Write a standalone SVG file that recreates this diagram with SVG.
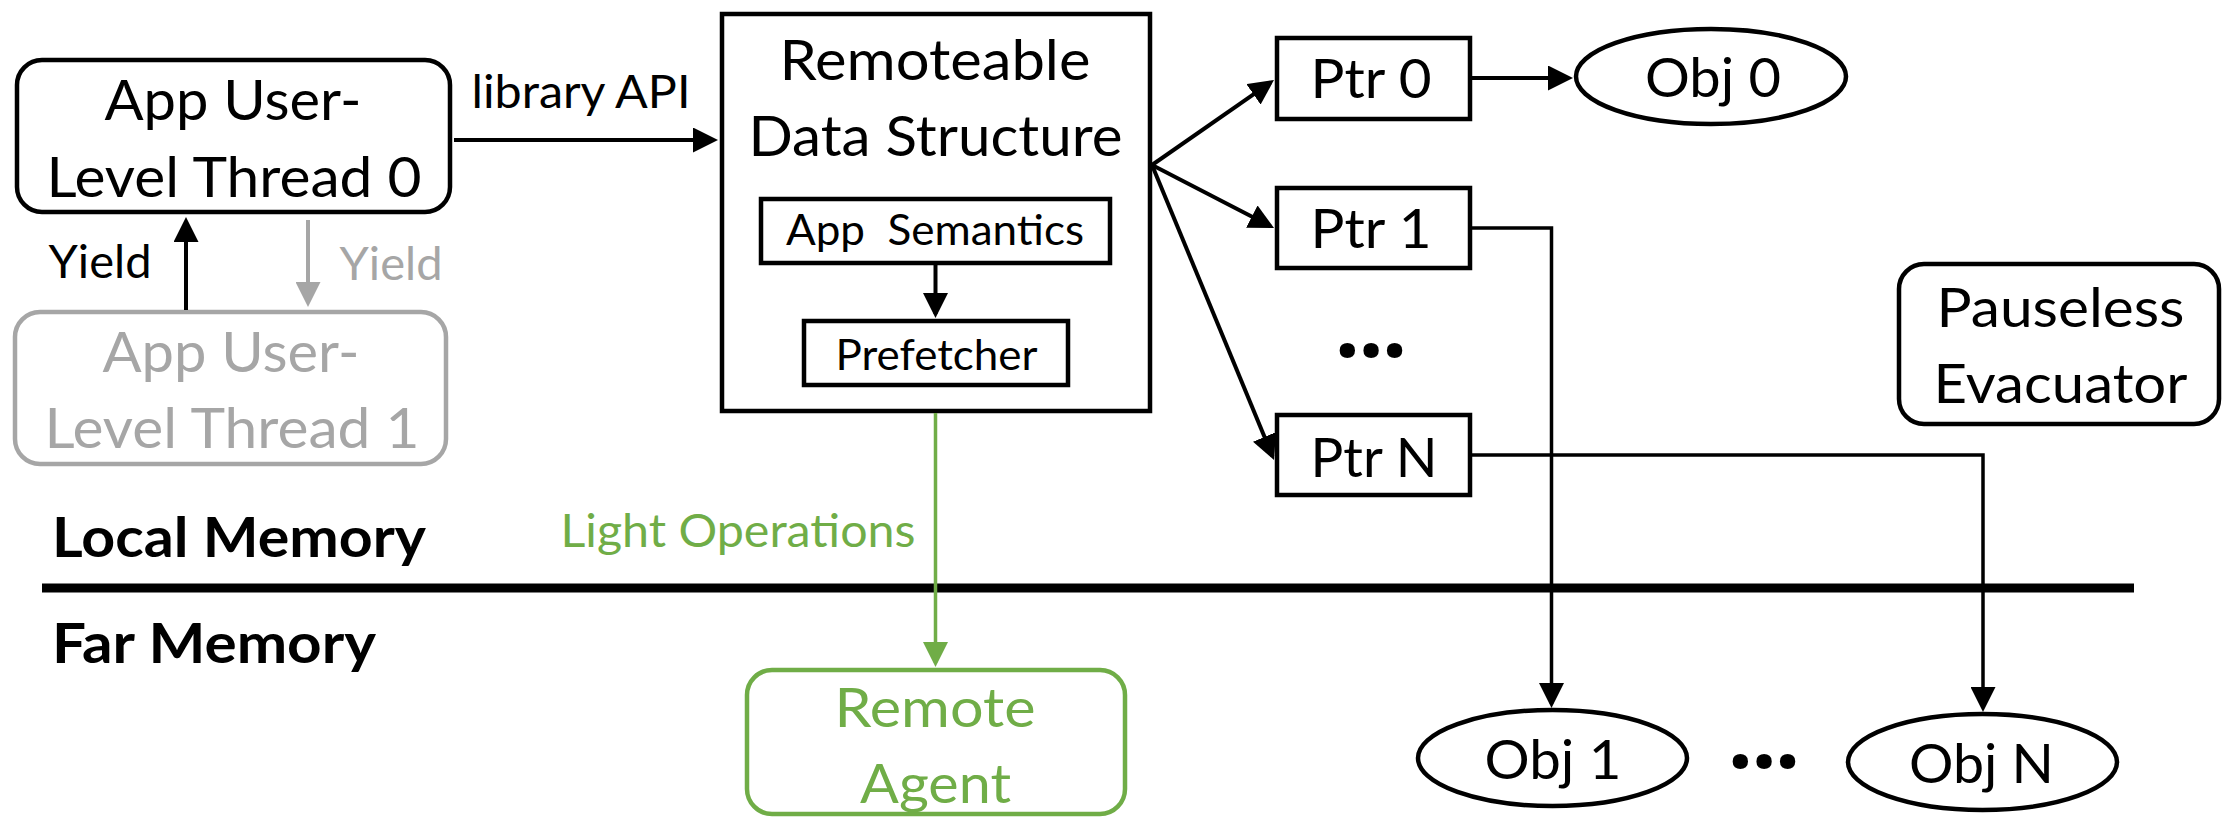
<svg xmlns="http://www.w3.org/2000/svg" width="2236" height="819" viewBox="0 0 2236 819">
  <style>
    text { font-family: Lato, "Open Sans", "Liberation Sans", sans-serif; fill: #000; }
    .mid { text-anchor: middle; }
    .big { font-size: 56px; }
    .med { font-size: 46px; }
    .sm { font-size: 42px; }
    .ptr { font-size: 54px; }
    .bold { font-weight: bold; }
    .dots { font-family: "Open Sans", "DejaVu Sans", sans-serif; font-weight: bold; font-size: 90px; text-anchor: middle; letter-spacing: -2px; }
    .gray { fill: #A6A6A6; }
    .green { fill: #70AD47; }
    .box { fill: #fff; stroke: #000; stroke-width: 4.5; }
    .box-gray { fill: #fff; stroke: #A6A6A6; stroke-width: 4.5; }
    .box-green { fill: #fff; stroke: #70AD47; stroke-width: 4.5; }
    .edge { fill: none; stroke: #000; stroke-width: 4; }
    .edge-thin { fill: none; stroke: #000; stroke-width: 3.5; }
    .edge-gray { fill: none; stroke: #A6A6A6; stroke-width: 4; }
    .edge-green { fill: none; stroke: #70AD47; stroke-width: 3.5; }
  </style>
  <defs>
    <marker id="arrow" markerUnits="userSpaceOnUse" viewBox="0 0 25 25" markerWidth="25" markerHeight="25" refX="21" refY="12.5" orient="auto">
      <path d="M0,0 L25,12.5 L0,25 Z" fill="#000"/>
    </marker>
    <marker id="arrow-gray" markerUnits="userSpaceOnUse" viewBox="0 0 25 25" markerWidth="25" markerHeight="25" refX="21" refY="12.5" orient="auto">
      <path d="M0,0 L25,12.5 L0,25 Z" fill="#A6A6A6"/>
    </marker>
    <marker id="arrow-green" markerUnits="userSpaceOnUse" viewBox="0 0 25 25" markerWidth="25" markerHeight="25" refX="21" refY="12.5" orient="auto">
      <path d="M0,0 L25,12.5 L0,25 Z" fill="#70AD47"/>
    </marker>
  </defs>

  <!-- memory boundary -->
  <g id="boundary">
    <line x1="42" y1="588" x2="2134" y2="588" stroke="#000" stroke-width="9"/>
    <text class="big bold" x="52" y="557" textLength="374" lengthAdjust="spacingAndGlyphs">Local Memory</text>
    <text class="big bold" x="52" y="663" textLength="324" lengthAdjust="spacingAndGlyphs">Far Memory</text>
  </g>

  <g id="thread0">
    <rect class="box" x="17" y="60" width="433" height="152" rx="25"/>
    <text class="big mid" x="233" y="120" textLength="257" lengthAdjust="spacingAndGlyphs">App User-</text>
    <text class="big mid" x="234" y="197" textLength="375" lengthAdjust="spacingAndGlyphs">Level Thread 0</text>
  </g>

  <g id="thread1">
    <rect class="box-gray" x="15" y="312" width="431" height="152" rx="25"/>
    <text class="big mid gray" x="231" y="372" textLength="257" lengthAdjust="spacingAndGlyphs">App User-</text>
    <text class="big mid gray" x="232" y="448" textLength="375" lengthAdjust="spacingAndGlyphs">Level Thread 1</text>
  </g>

  <g id="data-structure">
    <rect class="box" x="722" y="14" width="428" height="397"/>
    <text class="big mid" x="935" y="80" textLength="311" lengthAdjust="spacingAndGlyphs">Remoteable</text>
    <text class="big mid" x="935.5" y="156" textLength="374" lengthAdjust="spacingAndGlyphs">Data Structure</text>
  </g>

  <g id="app-semantics">
    <rect class="box" x="761" y="199" width="349" height="64"/>
    <text class="sm mid" x="935" y="245" textLength="298" lengthAdjust="spacingAndGlyphs" xml:space="preserve">App  Semantics</text>
  </g>

  <g id="prefetcher">
    <rect class="box" x="804" y="321" width="264" height="64"/>
    <text class="sm mid" x="936.5" y="370" textLength="202" lengthAdjust="spacingAndGlyphs">Prefetcher</text>
  </g>

  <g id="ptr0">
    <rect class="box" x="1277" y="38" width="193" height="81"/>
    <text class="ptr mid" x="1371" y="98" textLength="121" lengthAdjust="spacingAndGlyphs">Ptr 0</text>
  </g>

  <g id="ptr1">
    <rect class="box" x="1277" y="188" width="193" height="80"/>
    <text class="ptr mid" x="1371" y="248" textLength="121" lengthAdjust="spacingAndGlyphs">Ptr 1</text>
  </g>

  <g id="ptr-ellipsis">
    <text class="dots" x="1370" y="357">...</text>
  </g>

  <g id="ptrN">
    <rect class="box" x="1277" y="415" width="193" height="80"/>
    <text class="ptr mid" x="1374" y="477" textLength="127" lengthAdjust="spacingAndGlyphs">Ptr N</text>
  </g>

  <g id="obj0">
    <ellipse class="box" cx="1711" cy="76.5" rx="135" ry="47.5"/>
    <text class="ptr mid" x="1713" y="97" textLength="136" lengthAdjust="spacingAndGlyphs">Obj 0</text>
  </g>

  <g id="obj1">
    <ellipse class="box" cx="1552.5" cy="758" rx="134.5" ry="48"/>
    <text class="ptr mid" x="1553" y="779" textLength="137" lengthAdjust="spacingAndGlyphs">Obj 1</text>
  </g>

  <g id="obj-ellipsis">
    <text class="dots" x="1763" y="768">...</text>
  </g>

  <g id="objN">
    <ellipse class="box" cx="1982.5" cy="762" rx="134.5" ry="48"/>
    <text class="ptr mid" x="1981.5" y="783" textLength="145" lengthAdjust="spacingAndGlyphs">Obj N</text>
  </g>

  <g id="evacuator">
    <rect class="box" x="1899" y="264" width="320" height="160" rx="25"/>
    <text class="ptr mid" x="2060.5" y="327" textLength="248" lengthAdjust="spacingAndGlyphs">Pauseless</text>
    <text class="ptr mid" x="2060.5" y="403" textLength="254" lengthAdjust="spacingAndGlyphs">Evacuator</text>
  </g>

  <g id="remote-agent">
    <rect class="box-green" x="747" y="670" width="378" height="144" rx="25"/>
    <text class="ptr mid green" x="935" y="727" textLength="201" lengthAdjust="spacingAndGlyphs">Remote</text>
    <text class="ptr mid green" x="935.5" y="803" textLength="151" lengthAdjust="spacingAndGlyphs">Agent</text>
  </g>

  <!-- connectors, drawn over the node fills -->
  <g id="connectors">
    <line class="edge" x1="454" y1="140" x2="714" y2="140" marker-end="url(#arrow)"/>
    <text class="med mid" x="581" y="108" textLength="219" lengthAdjust="spacingAndGlyphs">library API</text>

    <line class="edge" x1="186" y1="310" x2="186" y2="221" marker-end="url(#arrow)"/>
    <text class="med mid" x="100" y="278" textLength="103" lengthAdjust="spacingAndGlyphs">Yield</text>

    <line class="edge-gray" x1="308" y1="220" x2="308" y2="303" marker-end="url(#arrow-gray)"/>
    <text class="med mid gray" x="391" y="280" textLength="103" lengthAdjust="spacingAndGlyphs">Yield</text>

    <line class="edge" x1="935.5" y1="265" x2="935.5" y2="314" marker-end="url(#arrow)"/>

    <line class="edge-green" x1="935.5" y1="413" x2="935.5" y2="663" marker-end="url(#arrow-green)"/>
    <text class="med mid green" x="738" y="547" textLength="355" lengthAdjust="spacingAndGlyphs">Light Operations</text>

    <line class="edge" x1="1152" y1="165" x2="1270.7" y2="82.3" marker-end="url(#arrow)"/>
    <line class="edge" x1="1152" y1="165" x2="1270.5" y2="226.2" marker-end="url(#arrow)"/>
    <line class="edge" x1="1152" y1="165" x2="1272.5" y2="456.3" marker-end="url(#arrow)"/>

    <line class="edge" x1="1472" y1="78" x2="1569" y2="78" marker-end="url(#arrow)"/>
    <path class="edge-thin" d="M1472,228 H1551.5 V704" marker-end="url(#arrow)"/>
    <path class="edge-thin" d="M1472,455 H1983 V708" marker-end="url(#arrow)"/>
  </g>
</svg>
